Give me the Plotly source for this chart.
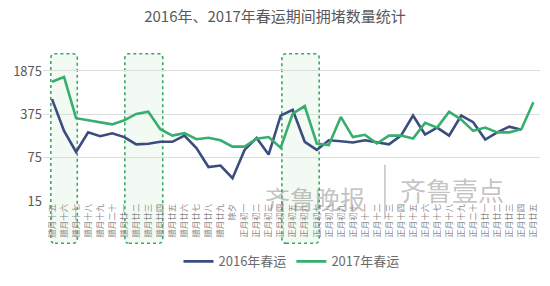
import math
import plotly.graph_objects as go

title = "2016年、2017年春运期间拥堵数量统计"

la_days = ["十五", "十六", "十七", "十八", "十九", "二十", "廿一", "廿二", "廿三",
           "廿四", "廿五", "廿六", "廿七", "廿八", "廿九"]
zheng_days = ["初一", "初二", "初三", "初四", "初五", "初六", "初七", "初八", "初九", "初十",
              "十一", "十二", "十三", "十四", "十五", "十六", "十七", "十八", "十九", "二十",
              "廿一", "廿二", "廿三", "廿四", "廿五"]
categories = ["腊月" + d for d in la_days] + ["除夕"] + ["正月" + d for d in zheng_days]

series_2016 = [658, 203, 93, 192, 166, 185, 161, 123, 126, 135,
               135, 170, 107, 53, 56, 35, 100, 156, 84, 358,
               442, 135, 100, 143, 138, 132, 143, 132, 123, 170,
               358, 177, 229, 170, 358, 280, 147, 192, 237, 211, None]
series_2017 = [1260, 1500, 325, 300, 280, 258, 300, 380, 412, 216,
               170, 186, 149, 157, 143, 113, 113, 152, 161, 108,
               384, 509, 127, 120, 339, 161, 175, 127, 170, 170,
               152, 273, 229, 412, 308, 203, 229, 192, 192, 216, 586]

y_ticks = [15, 75, 375, 1875]
highlight_ranges = [(-0.1, 2.1), (6.05, 9.2), (19.1, 22.2)]

names = ["2016年春运", "2017年春运"]
colors = ["#3b4d7e", "#35ae6e"]
font_family = "Noto Sans CJK SC"

fig = go.Figure()
for name, vals, col in zip(names, [series_2016, series_2017], colors):
    fig.add_trace(go.Scatter(x=categories, y=vals, mode="lines", name=name,
                             line=dict(color=col, width=2.6), connectgaps=False))

# highlighted periods: rounded dotted boxes
rx, ry = 0.35, 0.03
y0, y1 = -0.28, 0.975
for a, b in highlight_ranges:
    path = (f"M {a + rx} {y0} L {b - rx} {y0} Q {b} {y0} {b} {y0 + ry} "
            f"L {b} {y1 - ry} Q {b} {y1} {b - rx} {y1} "
            f"L {a + rx} {y1} Q {a} {y1} {a} {y1 - ry} "
            f"L {a} {y0 + ry} Q {a} {y0} {a + rx} {y0} Z")
    fig.add_shape(type="path", path=path, xref="x", yref="paper",
                  line=dict(color="#3aa86a", width=1.6, dash="dot"),
                  fillcolor="rgba(200,232,200,0.22)", layer="below")

# watermark
wm = "rgba(110,110,110,0.42)"
fig.add_annotation(text="齐鲁晚报", xref="paper", yref="paper", x=0.547, y=0.02,
                   xanchor="center", yanchor="middle",
                   showarrow=False, font=dict(family=font_family, size=25, color=wm))
fig.add_shape(type="line", xref="paper", yref="paper", x0=0.688, x1=0.688, y0=-0.12, y1=0.24,
              line=dict(color=wm, width=1.5))
fig.add_annotation(text="齐鲁壹点", xref="paper", yref="paper", x=0.823, y=0.075,
                   xanchor="center", yanchor="middle",
                   showarrow=False, font=dict(family=font_family, size=26, color=wm))

fig.update_layout(
    width=550, height=286,
    margin=dict(l=43, r=10, t=50, b=77),
    paper_bgcolor="white", plot_bgcolor="white",
    font=dict(family=font_family, color="#595959"),
    title=dict(text=title, x=0.5, xanchor="center", y=0.94, yanchor="middle",
               font=dict(size=15, color="#595959", family=font_family)),
    showlegend=True,
    legend=dict(orientation="h", x=0.5, xanchor="center", y=-0.4, yanchor="middle",
                font=dict(size=13, color="#6b6b6b"), itemwidth=30,
                bgcolor="rgba(0,0,0,0)"),
    xaxis=dict(type="category", range=[-0.75, 40.55], showgrid=False,
               tickangle=-90, tickfont=dict(size=8.5, color="#8a8a8a"),
               ticks="", showline=False, zeroline=False),
    yaxis=dict(type="log", range=[math.log10(15), 3.611], tickvals=y_ticks,
               ticktext=[str(v) for v in y_ticks], showgrid=True,
               gridcolor="#dcdcdc", gridwidth=1, zeroline=False,
               tickfont=dict(size=13, color="#595959"), ticks=""),
)

fig.write_html("out.html")
